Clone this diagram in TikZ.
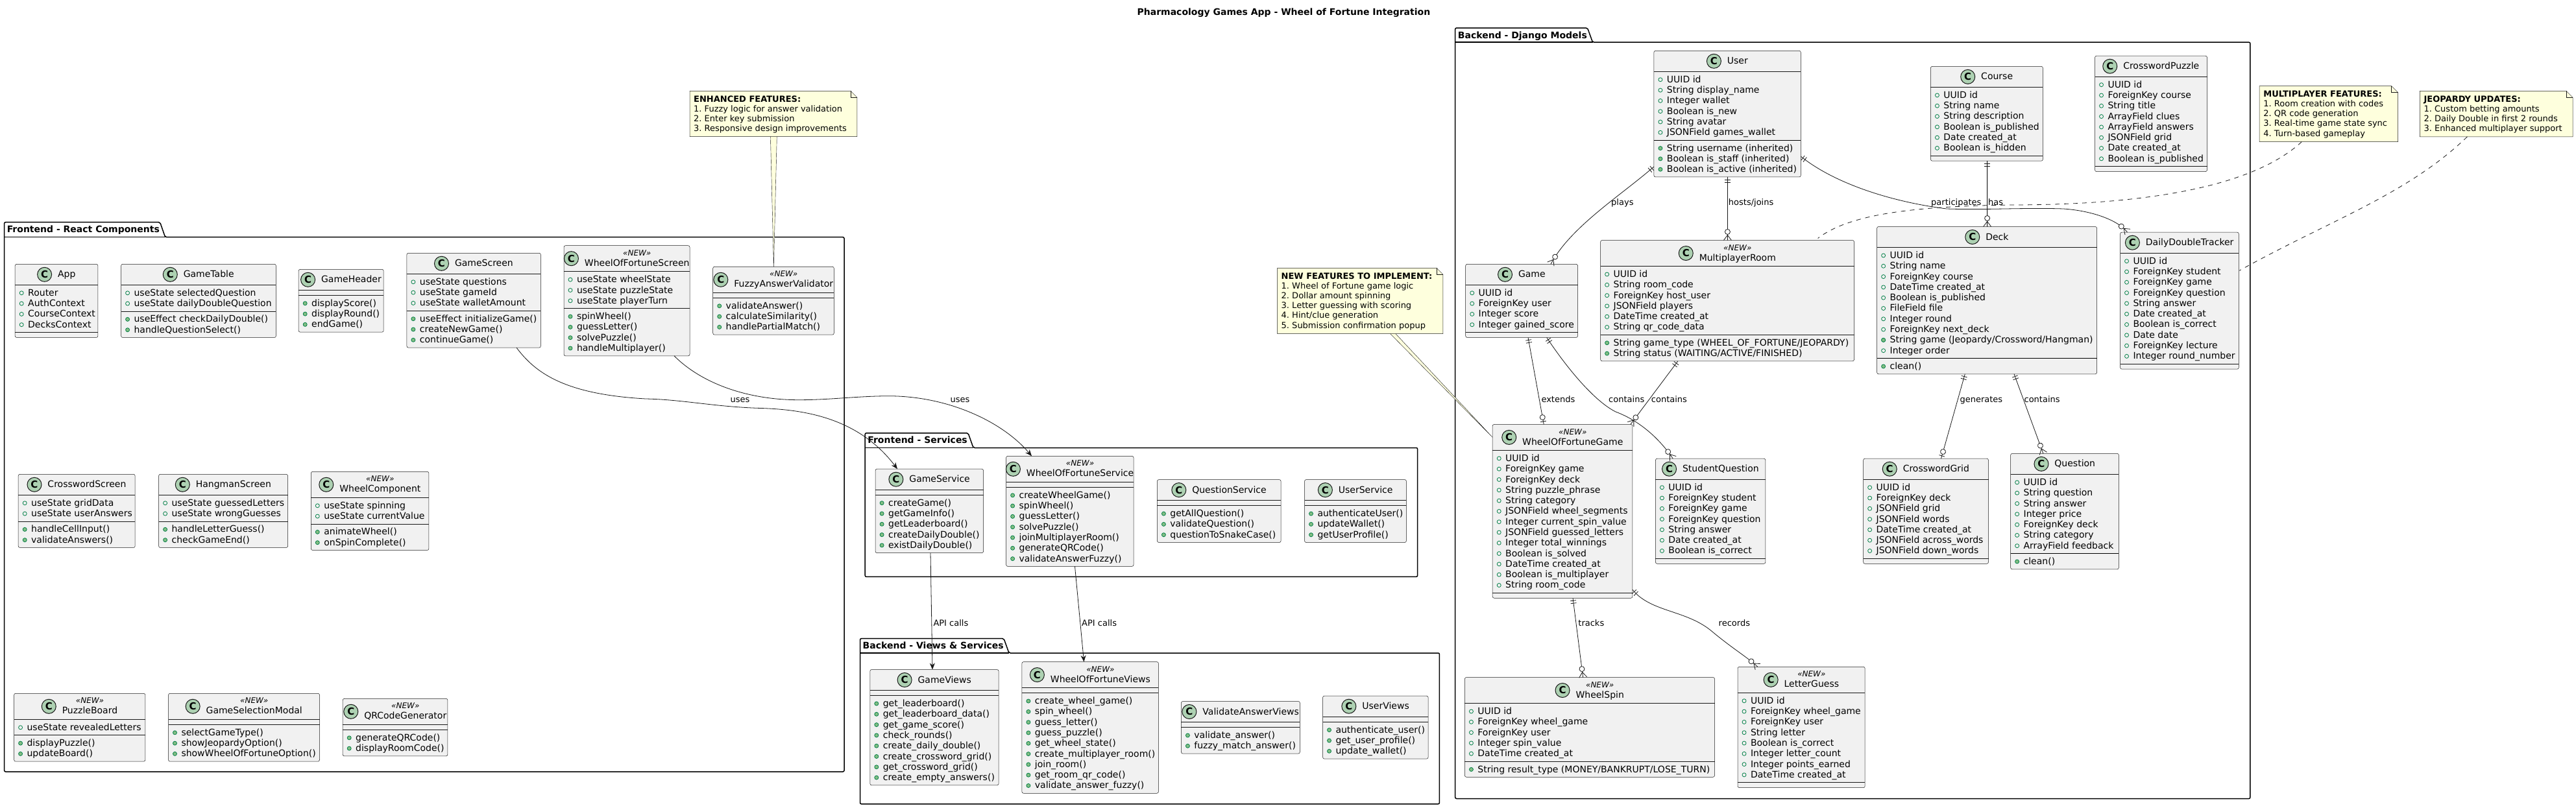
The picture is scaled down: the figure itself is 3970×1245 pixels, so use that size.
\documentclass[tikz,border=0pt]{standalone}
\usepackage{fontspec}
\setmainfont{DejaVu Sans}
\usetikzlibrary{positioning,arrows.meta,decorations.markings}
\definecolor{classfill}{HTML}{F1F1F1}
\definecolor{inkline}{HTML}{181818}
\definecolor{spotfill}{HTML}{ADD1B2}
\definecolor{fieldgreen}{HTML}{038048}
\definecolor{methodgreen}{HTML}{84BE84}
\definecolor{notefill}{HTML}{FEFFDD}
\newcommand{\classfont}{\fontsize{14}{15}\selectfont}
\newcommand{\stereofont}{\fontsize{12}{15}\selectfont\itshape}
\tikzset{
  classbox/.style={draw=inkline,line width=0.5pt,fill=classfill,rounded corners=2.5pt,inner sep=0pt,outer sep=0pt},
  classrule/.style={draw=inkline,line width=0.5pt},
  blackrule/.style={draw=black,line width=1pt},
  classname/.style={font=\classfont,inner sep=0pt,outer sep=0pt,align=center},
  spot/.style={circle,draw=inkline,line width=1pt,fill=spotfill,minimum size=22pt,inner sep=0pt,outer sep=0pt,font=\fontsize{15}{15}\selectfont\bfseries},
  rowtext/.style={font=\classfont,anchor=base west,inner sep=0pt,outer sep=0pt},
  fieldmark/.style={draw=fieldgreen,line width=0.8pt},
  methodmark/.style={draw=fieldgreen,fill=methodgreen,line width=0.8pt},
  pkgframe/.style={draw=black,line width=1.5pt,rounded corners=2pt},
  pkglabel/.style={font=\fontsize{14}{15}\selectfont\bfseries,anchor=base west,inner sep=0pt},
  notebox/.style={inner sep=0pt,outer sep=0pt},
  notepath/.style={draw=inkline,line width=0.5pt,fill=notefill},
  notetext/.style={font=\fontsize{13}{15.2}\selectfont\frenchspacing,align=left,anchor=north west,inner sep=0pt},
  notewedge/.style={draw=inkline,line width=0.4pt,fill=notefill},
  notedash/.style={draw=inkline,line width=0.8pt,dash pattern=on 7pt off 7pt},
  rellabel/.style={font=\fontsize{13}{15}\selectfont,anchor=base west,inner sep=0pt},
  rel/.style={draw=inkline,line width=0.8pt},
  usesrel/.style={rel,-{Stealth[length=10pt,width=8pt]}},
  relbar/.style={draw=inkline,line width=0.8pt},
  % one to many
  manyrel/.style={rel,postaction={decorate},decoration={markings,
    mark=at position 4pt with {\draw[relbar] (0,-4.5pt) -- (0,4.5pt);},
    mark=at position 8pt with {\draw[relbar] (0,-4.5pt) -- (0,4.5pt);},
    mark=at position -13pt with {\draw[relbar,fill=white] (0,0) circle (4pt);},
    mark=at position -8pt with {\draw[relbar] (0,0) -- (8pt,6pt) (0,0) -- (8pt,-6pt);}}},
  % one to zero or one
  onerel/.style={rel,postaction={decorate},decoration={markings,
    mark=at position 4pt with {\draw[relbar] (0,-4.5pt) -- (0,4.5pt);},
    mark=at position 8pt with {\draw[relbar] (0,-4.5pt) -- (0,4.5pt);},
    mark=at position -11pt with {\draw[relbar,fill=white] (0,0) circle (4pt);},
    mark=at position -4.5pt with {\draw[relbar] (0,-4.5pt) -- (0,4.5pt);}}},
}
\newcount\rowtotal
\newcommand{\countrows}[1]{\global\rowtotal=0\relax
  \if\relax\detokenize{#1}\relax\else\foreach \r in {#1}{\global\advance\rowtotal by 1\relax}\fi}
% [stereotype]{name}{x,y}{width}{title}{fields}{methods}
\newcommand{\umlclass}[7][]{%
  \if\relax\detokenize{#1}\relax\def\headh{32}\def\namebody{\strut #5}\else\def\headh{40}\def\namebody{{\stereofont «#1»}\\[1pt]\strut #5}\fi
  \countrows{#6}\edef\nfields{\the\rowtotal}%
  \countrows{#7}\edef\nmethods{\the\rowtotal}%
  \pgfmathsetmacro{\seca}{\headh+8+\nfields*16.297}%
  \pgfmathsetmacro{\boxh}{\seca+8+\nmethods*16.297}%
  \setbox0=\hbox{\classfont #5}%
  \pgfmathsetmacro{\namew}{\the\wd0}%
  \pgfmathsetmacro{\spotgap}{min(9.5,0.27*(#4-22-\namew))}%
  \pgfmathsetmacro{\nameshift}{(22+\spotgap)/2}%
  \node[classbox,minimum width=#4,minimum height=\boxh,anchor=north west] (#2) at (#3) {};
  \draw[classrule] ([yshift=-\headh]#2.north west) -- ([yshift=-\headh]#2.north east);
  \draw[classrule] ([yshift=-\seca]#2.north west) -- ([yshift=-\seca]#2.north east);
  \node[classname] (#2-name) at ([xshift=\nameshift,yshift=-\headh/2-1.5]#2.north) {\namebody};
  \node[spot,yshift=1.5pt,left=\spotgap pt of #2-name] (#2-spot) {C};
  \if\relax\detokenize{#6}\relax\else
  \foreach \f [count=\i] in {#6}{
    \pgfmathsetmacro{\rowy}{\headh+4+(\i-1)*16.297}
    \draw[fieldmark] ([xshift=10,yshift=-\rowy-8.5]#2.north west) circle (3pt);
    \node[rowtext] (#2-f\i) at ([xshift=20,yshift=-\rowy-13]#2.north west) {\f};
  }\fi
  \if\relax\detokenize{#7}\relax\else
  \foreach \f [count=\i] in {#7}{
    \pgfmathsetmacro{\rowy}{\seca+4+(\i-1)*16.297}
    \draw[methodmark] ([xshift=10,yshift=-\rowy-8.5]#2.north west) circle (3pt);
    \node[rowtext] (#2-m\i) at ([xshift=20,yshift=-\rowy-13]#2.north west) {\f};
  }\fi
}
\newcommand{\solidrule}[1]{\draw[blackrule] ([yshift=-\seca]#1.north west) -- ([yshift=-\seca]#1.north east);}
% {name}{x,y}{width}{height}{head}{lines}
\newcommand{\umlnote}[6]{%
  \node[notebox,minimum width=#3,minimum height=#4,anchor=north west] (#1) at (#2) {};
  \draw[notepath] (#1.north west) -- ([xshift=-10]#1.north east) -- ([yshift=-10]#1.north east) -- (#1.south east) -- (#1.south west) -- cycle;
  \draw[classrule] ([xshift=-10]#1.north east) |- ([yshift=-10]#1.north east);
  \node[notetext] (#1-text) at ([xshift=6,yshift=-7]#1.north west) {\textbf{#5}\\#6};
}
% {name}{label}{x}{ytab}{xtab}{ybody}{x2}{y2}
\newcommand{\umlpackage}[8]{%
  \draw[pkgframe] (#3,#6) |- (#5-8,#4) -- (#5,#6) -- (#7,#6) -- (#7,#8) -- (#3,#8) -- cycle;
  \draw[pkgframe] (#3,#6) -- (#5,#6);
  \node[pkglabel] (#1) at (#3+4,#4+16) {#2};
}
\begin{document}
\begin{tikzpicture}[x=1pt,y=-1pt]
  \useasboundingbox (0,0) rectangle (3970,1245);
  \node[font=\fontsize{14}{15}\selectfont\bfseries] (title) at (1978.4,19.5) {Pharmacology Games App - Wheel of Fortune Integration};
  % packages
  \umlpackage{reactpkg}{Frontend - React Components}{6.6}{342.7}{254.6}{365.7}{1301}{1190}
  \umlpackage{servicepkg}{Frontend - Services}{1333.2}{667.8}{1500}{690.5}{2184.6}{889.4}
  \umlpackage{viewpkg}{Backend - Views \& Services}{1325.5}{984.7}{1555}{1007}{2218.4}{1239.8}
  \umlpackage{modelpkg}{Backend - Django Models}{2242.7}{43.1}{2454.5}{65.2}{3467.9}{1231.5}
  % react components
  \umlclass{app}{23.2,407.3}{127.7}{App}{Router,AuthContext,CourseContext,DecksContext}{}
  \umlclass{gametable}{186.6,407.3}{238.8}{GameTable}{useState selectedQuestion,useState dailyDoubleQuestion}{useEffect checkDailyDouble(),handleQuestionSelect()}
  \umlclass{gameheader}{460.2,415.3}{131}{GameHeader}{}{displayScore(),displayRound(),endGame()}
  \umlclass{gamescreen}{626.9,390.3}{206.5}{GameScreen}{useState questions,useState gameId,useState walletAmount}{useEffect initializeGame(),createNewGame(),continueGame()}
  \umlclass[NEW]{wofscreen}{869,378.7}{194}{WheelOfFortuneScreen}{useState wheelState,useState puzzleState,useState playerTurn}{spinWheel(),guessLetter(),solvePuzzle(),handleMultiplayer()}
  \umlclass[NEW]{fuzzy}{1098.7,411.3}{186.6}{FuzzyAnswerValidator}{}{validateAnswer(),calculateSimilarity(),handlePartialMatch()}
  \umlclass{crossscreen}{28.2,731.3}{180}{CrosswordScreen}{useState gridData,useState userAnswers}{handleCellInput(),validateAnswers()}
  \umlclass{hangscreen}{244.6,731.3}{199}{HangmanScreen}{useState guessedLetters,useState wrongGuesses}{handleLetterGuess(),checkGameEnd()}
  \umlclass[NEW]{wheelcomp}{479.3,727.3}{181.6}{WheelComponent}{useState spinning,useState currentValue}{animateWheel(),onSpinComplete()}
  \umlclass[NEW]{puzzleboard}{21.6,1069.3}{202.3}{PuzzleBoard}{useState revealedLetters}{displayPuzzle(),updateBoard()}
  \umlclass[NEW]{selectmodal}{259.5,1069.3}{233}{GameSelectionModal}{}{selectGameType(),showJeopardyOption(),showWheelOfFortuneOption()}
  \umlclass[NEW]{qrgen}{528.2,1077.3}{161.7}{QRCodeGenerator}{}{generateQRCode(),displayRoomCode()}
  % frontend services
  \umlclass{gameservice}{1349.1,723.2}{166.5}{GameService}{}{createGame(),getGameInfo(),getLeaderboard(),createDailyDouble(),existDailyDouble()}
  \umlclass[NEW]{wofservice}{1550.6,703.3}{196.4}{WheelOfFortuneService}{}{createWheelGame(),spinWheel(),guessLetter(),solvePuzzle(),joinMultiplayerRoom(),generateQRCode(),validateAnswerFuzzy()}
  \umlclass{questionservice}{1783.4,739.6}{190.7}{QuestionService}{}{getAllQuestion(),validateQuestion(),questionToSnakeCase()}
  \umlclass{userservice}{2010.5,739.6}{156.9}{UserService}{}{authenticateUser(),updateWallet(),getUserProfile()}
  % backend views
  \umlclass{gameviews}{1340.8,1032.5}{198.3}{GameViews}{}{get\_leaderboard(),get\_leaderboard\_data(),get\_game\_score(),check\_rounds(),create\_daily\_double(),create\_crossword\_grid(),get\_crossword\_grid(),create\_empty\_answers()}
  \umlclass[NEW]{wofviews}{1574.9,1020.6}{210.5}{WheelOfFortuneViews}{}{create\_wheel\_game(),spin\_wheel(),guess\_letter(),guess\_puzzle(),get\_wheel\_state(),create\_multiplayer\_room(),join\_room(),get\_room\_qr\_code(),validate\_answer\_fuzzy()}
  \umlclass{validateviews}{1820.4,1081.5}{183}{ValidateAnswerViews}{}{validate\_answer(),fuzzy\_match\_answer()}
  \umlclass{userviews}{2038.5,1073.2}{162.6}{UserViews}{}{authenticate\_user(),get\_user\_profile(),update\_wallet()}
  % django models
  \umlclass{user}{2548.9,78.3}{226.4}{User}{UUID id,String display\_name,Integer wallet,Boolean is\_new,String avatar,JSONField games\_wallet}{String username (inherited),Boolean is\_staff (inherited),Boolean is\_active (inherited)}
  \solidrule{user}
  \umlclass{game}{2258.7,407.3}{172.8}{Game}{UUID id,ForeignKey user,Integer score,Integer gained\_score}{}
  \umlclass[NEW]{mroom}{2466.6,370.5}{390.9}{MultiplayerRoom}{UUID id,String room\_code,ForeignKey host\_user,JSONField players,DateTime created\_at,String qr\_code\_data}{String game\_type (WHEEL\_OF\_FORTUNE/JEOPARDY),String status (WAITING/ACTIVE/FINISHED)}
  \umlclass{course}{2975.4,102.4}{173}{Course}{UUID id,String name,String description,Boolean is\_published,Date created\_at,Boolean is\_hidden}{}
  \umlclass{crosspuzzle}{3228.5,86.2}{173}{CrosswordPuzzle}{UUID id,ForeignKey course,String title,ArrayField clues,ArrayField answers,JSONField grid,Date created\_at,Boolean is\_published}{}
  \umlclass{deck}{2892.6,349.5}{339}{Deck}{UUID id,String name,ForeignKey course,DateTime created\_at,Boolean is\_published,FileField file,Integer round,ForeignKey next\_deck,String game (Jeopardy/Crossword/Hangman),Integer order}{clean()}
  \solidrule{deck}
  \draw[methodmark] ([xshift=-10,yshift=4.5]deck-f9.base west) circle (3pt);
  \umlclass{tracker}{3267.5,358.2}{182.8}{DailyDoubleTracker}{UUID id,ForeignKey student,ForeignKey game,ForeignKey question,String answer,Date created\_at,Boolean is\_correct,Date date,ForeignKey lecture,Integer round\_number}{}
  \umlclass[NEW]{wofgame}{2300.2,654.4}{215.7}{WheelOfFortuneGame}{UUID id,ForeignKey game,ForeignKey deck,String puzzle\_phrase,String category,JSONField wheel\_segments,Integer current\_spin\_value,JSONField guessed\_letters,Integer total\_winnings,Boolean is\_solved,DateTime created\_at,Boolean is\_multiplayer,String room\_code}{}
  \umlclass{squestion}{2551.4,707.2}{169.5}{StudentQuestion}{UUID id,ForeignKey student,ForeignKey game,ForeignKey question,String answer,Date created\_at,Boolean is\_correct}{}
  \umlclass{crossgrid}{2871.6,707.2}{192.9}{CrosswordGrid}{UUID id,ForeignKey deck,JSONField grid,JSONField words,DateTime created\_at,JSONField across\_words,JSONField down\_words}{}
  \umlclass{question}{3098.6,699.4}{166.8}{Question}{UUID id,String question,String answer,Integer price,ForeignKey deck,String category,ArrayField feedback}{clean()}
  \solidrule{question}
  \umlclass[NEW]{wheelspin}{2257.4,1044.5}{385.1}{WheelSpin}{UUID id,ForeignKey wheel\_game,ForeignKey user,Integer spin\_value,DateTime created\_at}{String result\_type (MONEY/BANKRUPT/LOSE\_TURN)}
  \umlclass[NEW]{letterguess}{2678,1028.3}{196.2}{LetterGuess}{UUID id,ForeignKey wheel\_game,ForeignKey user,String letter,Boolean is\_correct,Integer letter\_count,Integer points\_earned,DateTime created\_at}{}
  % notes
  \umlnote{enhancednote}{1063,140.3}{257.9}{70.4}{ENHANCED FEATURES:}{1. Fuzzy logic for answer validation\\2. Enter key submission\\3. Responsive design improvements}
  \umlnote{newnote}{1968.5,413.3}{255.4}{101.4}{NEW FEATURES TO IMPLEMENT:}{1. Wheel of Fortune game logic\\2. Dollar amount spinning\\3. Letter guessing with scoring\\4. Hint/clue generation\\5. Submission confirmation popup}
  \umlnote{multinote}{3482.2,132.5}{213.4}{86.2}{MULTIPLAYER FEATURES:}{1. Room creation with codes\\2. QR code generation\\3. Real-time game state sync\\4. Turn-based gameplay}
  \umlnote{jeopardynote}{3729.4,140.4}{235.6}{70.4}{JEOPARDY UPDATES:}{1. Custom betting amounts\\2. Daily Double in first 2 rounds\\3. Enhanced multiplayer support}
  \filldraw[notewedge] ([xshift=124.4]enhancednote.south west) -- ([xshift=93.7]fuzzy.north west) -- ([xshift=134.3]enhancednote.south west) -- cycle;
  \filldraw[notewedge] ([xshift=174.1]newnote.south west) -- ([yshift=-20]wofgame.north west) -- ([xshift=182.4]newnote.south west) -- cycle;
  \draw[notedash] ([xshift=65]multinote.south west) .. controls (3470,290) and (3300,316) .. (3100,316) .. controls (2950,318) and (2850,330) .. ([xshift=335,yshift=3]mroom.north west);
  \draw[notedash] ([xshift=73]jeopardynote.south west) .. controls (3710,300) and (3590,340) .. ([yshift=-59,xshift=1]tracker.north east);
  % relations
  \draw[usesrel] ([xshift=169.1]gamescreen.south west) .. controls (825,575) and (870,608) .. (995,615) .. controls (1050,616) and (1100,627) .. (1166.7,629.3) .. controls (1230,631) and (1320,640) .. ([xshift=33.9]gameservice.north west);
  \node[rellabel] (usesa) at (1125.3,620) {uses};
  \draw[usesrel] ([xshift=170]wofscreen.south west) .. controls (1080,590) and (1150,617) .. (1233,616.7) .. controls (1280,616.5) and (1320,611) .. (1367,610.7) .. controls (1460,610) and (1545,650) .. ([xshift=39.4]wofservice.north west);
  \node[rellabel] (usesb) at (1464.3,620) {uses};
  \draw[usesrel] ([xshift=84.9]gameservice.south west) -- ([xshift=96.2]gameviews.north west);
  \node[rellabel] (apia) at (1438.3,965.5) {API calls};
  \draw[usesrel] ([xshift=105.9]wofservice.south west) -- ([xshift=95.6]wofviews.north west);
  \node[rellabel] (apib) at (1667,965.5) {API calls};
  \draw[manyrel] ([yshift=-178.7]user.north west) .. controls (2500,300) and (2420,350) .. ([xshift=131.3]game.north west);
  \node[rellabel] (plays) at (2483,316) {plays};
  \draw[manyrel] ([xshift=113.5]user.south west) -- ([xshift=195.8]mroom.north west);
  \node[rellabel] (hosts) at (2663.7,316) {hosts/joins};
  \draw[manyrel] ([yshift=-162.9]user.north east) .. controls (2830,285) and (2920,312) .. (3000,322) .. controls (3060,324) and (3120,320) .. (3180,322) .. controls (3225,325) and (3265,340) .. ([xshift=11]tracker.north west);
  \node[rellabel] (participates) at (2976,316) {participates};
  \draw[manyrel] ([xshift=87.2]course.south west) -- ([xshift=170]deck.north west);
  \node[rellabel] (has) at (3063.9,316) {has};
  \draw[onerel] ([xshift=96.3]game.south west) -- ([xshift=79]wofgame.north west);
  \node[rellabel] (extends) at (2375.3,620) {extends};
  \draw[manyrel] ([xshift=125]game.south west) .. controls (2420,575) and (2460,620) .. (2490,635) .. controls (2530,650) and (2560,680) .. ([xshift=26.8]squestion.north west);
  \node[rellabel] (containsa) at (2479,620) {contains};
  \draw[manyrel] ([xshift=119.2]mroom.south west) -- ([xshift=-3]wofgame.north east);
  \node[rellabel] (containsb) at (2544.7,620) {contains};
  \draw[manyrel] ([xshift=123.8]wofgame.south west) -- ([xshift=182.2]wheelspin.north west);
  \node[rellabel] (tracks) at (2432.2,965) {tracks};
  \draw[manyrel] ([yshift=-255]wofgame.north east) .. controls (2545,945) and (2600,940) .. (2640,975) .. controls (2670,1000) and (2695,1015) .. ([xshift=30.8]letterguess.north west);
  \node[rellabel] (records) at (2648.5,965) {records};
  \draw[onerel] ([xshift=135.7]deck.south west) -- ([xshift=119.9]crossgrid.north west);
  \node[rellabel] (generates) at (3020.3,620) {generates};
  \draw[manyrel] ([xshift=211.4]deck.south west) -- ([xshift=50.3]question.north west);
  \node[rellabel] (containsc) at (3119.4,620) {contains};
\end{tikzpicture}
\end{document}
